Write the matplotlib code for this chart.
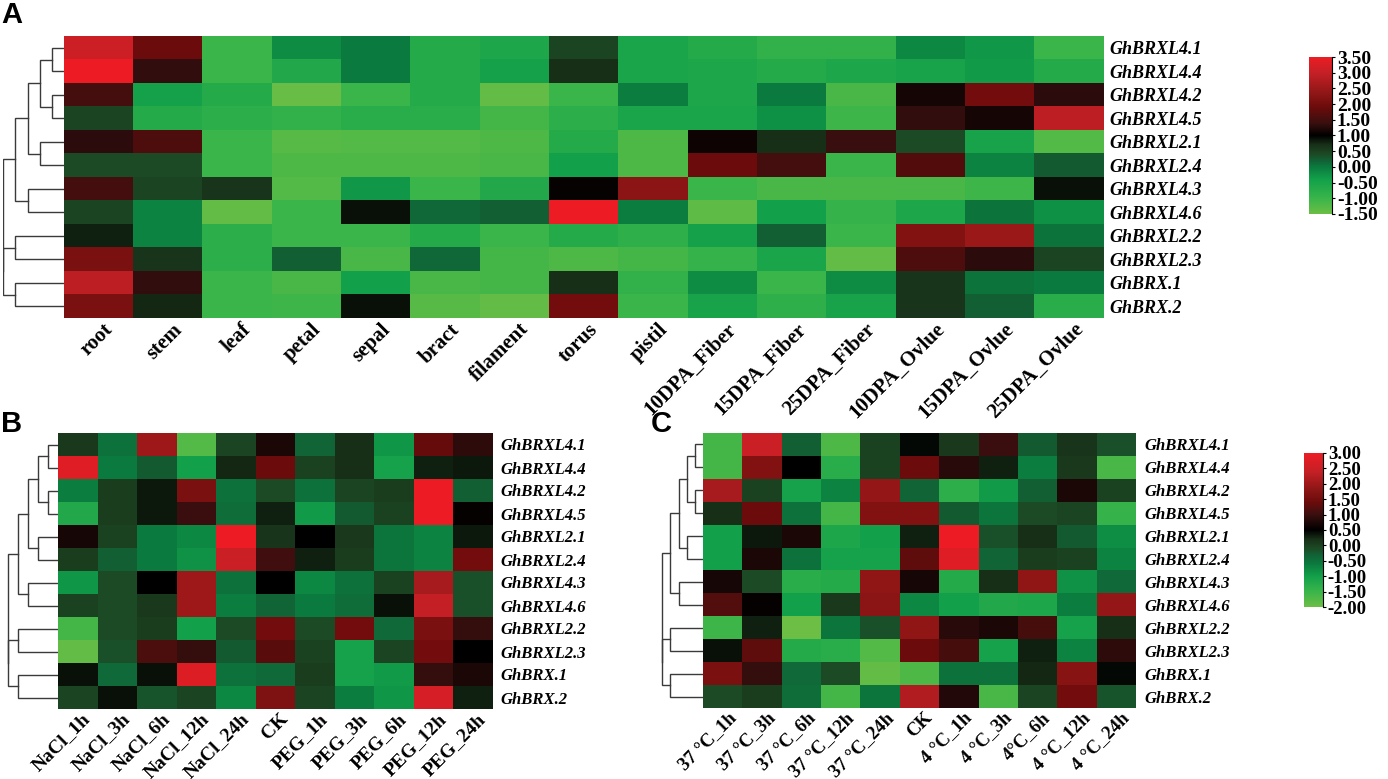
import matplotlib
matplotlib.use("Agg")
import matplotlib.pyplot as plt
import numpy as np
from matplotlib.cm import ScalarMappable
from matplotlib.colors import LinearSegmentedColormap, Normalize
from matplotlib.transforms import ScaledTranslation

W, H = 1388, 779

genes = ["GhBRXL4.1", "GhBRXL4.4", "GhBRXL4.2", "GhBRXL4.5", "GhBRXL2.1", "GhBRXL2.4",
         "GhBRXL4.3", "GhBRXL4.6", "GhBRXL2.2", "GhBRXL2.3", "GhBRX.1", "GhBRX.2"]

tissues = ["root", "stem", "leaf", "petal", "sepal", "bract", "filament", "torus", "pistil",
           "10DPA_Fiber", "15DPA_Fiber", "25DPA_Fiber", "10DPA_Ovlue", "15DPA_Ovlue", "25DPA_Ovlue"]
salt_labels = ["NaCl_1h", "NaCl_3h", "NaCl_6h", "NaCl_12h", "NaCl_24h", "CK",
               "PEG_1h", "PEG_3h", "PEG_6h", "PEG_12h", "PEG_24h"]
temp_labels = ["37 °C_1h", "37 °C_3h", "37 °C_6h", "37 °C_12h", "37 °C_24h", "CK",
               "4 °C_1h", "4 °C_3h", "4°C_6h", "4 °C_12h", "4 °C_24h"]

tissue_values = [
    [3.1, 1.9, -1.0, -0.2, 0.0, -0.7, -0.6, 0.45, -0.55, -0.7, -0.9, -0.9, -0.15, -0.3, -1.0],
    [3.5, 1.35, -1.0, -0.65, 0.0, -0.7, -0.45, 0.7, -0.55, -0.6, -0.7, -0.6, -0.5, -0.35, -0.7],
    [1.5, -0.45, -0.7, -1.45, -1.0, -0.7, -1.4, -1.0, -0.05, -0.6, 0.0, -1.15, 1.15, 2.0, 1.3],
    [0.45, -0.7, -0.8, -0.9, -0.75, -0.75, -1.1, -0.8, -0.55, -0.55, -0.25, -1.05, 1.35, 1.15, 2.9],
    [1.3, 1.6, -1.0, -1.3, -1.25, -1.25, -1.2, -0.7, -1.2, 1.1, 0.7, 1.4, 0.4, -0.5, -1.25],
    [0.4, 0.4, -1.0, -1.2, -1.2, -1.2, -1.15, -0.4, -1.2, 1.9, 1.5, -1.0, 1.65, -0.1, 0.25],
    [1.5, 0.45, 0.65, -1.25, -0.3, -1.0, -0.65, 1.05, 2.3, -1.0, -1.15, -1.15, -1.15, -1.05, 0.9],
    [0.45, -0.1, -1.4, -1.0, 0.9, 0.15, 0.2, 3.5, -0.05, -1.35, -0.4, -0.95, -0.6, 0.05, -0.25],
    [0.8, -0.1, -0.8, -1.0, -1.0, -0.7, -1.0, -0.7, -0.85, -0.45, 0.2, -1.0, 2.2, 2.5, 0.05],
    [2.1, 0.65, -0.8, 0.2, -1.15, 0.15, -1.1, -1.2, -1.1, -0.95, -0.55, -1.4, 1.6, 1.3, 0.45],
    [2.9, 1.35, -1.0, -1.15, -0.4, -1.15, -1.1, 0.7, -0.9, -0.2, -1.0, -0.2, 0.65, 0.05, 0.0],
    [2.1, 0.75, -1.0, -1.05, 0.9, -1.3, -1.4, 2.0, -1.0, -0.5, -0.85, -0.5, 0.65, 0.2, -0.75],
]

salt_values = [
    [0.1, -0.5, 2.0, -1.75, -0.05, 0.75, -0.35, 0.2, -0.9, 1.35, 0.9],
    [2.8, -0.6, -0.25, -1.0, 0.25, 1.4, 0.0, 0.2, -1.05, 0.3, 0.35],
    [-0.65, 0.05, 0.35, 1.6, -0.5, -0.1, -0.5, -0.05, 0.05, 3.0, -0.3],
    [-1.2, 0.05, 0.35, 1.0, -0.45, 0.3, -0.95, -0.25, 0.0, 3.0, 0.55],
    [0.7, 0.0, -0.6, -0.75, 3.0, 0.15, 0.5, 0.1, -0.55, -0.7, 0.35],
    [0.05, -0.3, -0.6, -0.85, 2.5, 1.05, 0.3, 0.05, -0.55, -0.7, 1.5],
    [-0.9, -0.1, 0.5, 2.0, -0.5, 0.5, -0.75, -0.5, 0.0, 2.1, -0.15],
    [0.0, -0.1, 0.1, 2.0, -0.65, -0.35, -0.6, -0.45, 0.4, 2.4, -0.15],
    [-1.6, -0.1, 0.05, -1.0, -0.1, 1.5, -0.1, 1.5, -0.4, 1.6, 0.95],
    [-1.9, -0.15, 1.15, 0.95, -0.25, 1.25, 0.0, -1.05, -0.05, 1.5, 0.5],
    [0.4, -0.4, 0.4, 2.75, -0.5, -0.4, 0.05, -1.05, -0.95, 0.95, 0.75],
    [-0.05, 0.4, -0.2, -0.05, -0.75, 1.65, -0.05, -0.65, -0.9, 2.65, 0.3],
]

temp_values = [
    [-1.6, 2.5, -0.3, -1.7, 0.0, 0.45, 0.1, 1.0, -0.25, 0.15, -0.15],
    [-1.6, 1.7, 0.5, -1.3, 0.0, 1.4, 0.85, 0.3, -0.65, 0.1, -1.65],
    [2.1, 0.0, -1.05, -0.7, 1.9, -0.35, -1.35, -0.95, -0.3, 0.75, 0.0],
    [0.2, 1.4, -0.5, -1.6, 1.7, 1.7, -0.25, -0.55, -0.1, -0.05, -1.45],
    [-1.0, 0.35, 0.75, -1.15, -1.0, 0.3, 3.0, -0.15, 0.2, -0.25, -0.8],
    [-1.0, 0.75, -0.5, -1.05, -1.05, 1.3, 2.8, -0.35, 0.05, 0.0, -0.7],
    [0.7, -0.1, -1.3, -1.25, 1.85, 0.7, -1.25, 0.2, 1.85, -0.85, -0.4],
    [1.2, 0.55, -1.0, 0.1, 1.8, -0.75, -1.0, -1.2, -1.15, -0.65, 1.9],
    [-1.55, 0.3, -2.0, -0.55, -0.15, 1.85, 0.85, 0.75, 1.1, -1.05, 0.2],
    [0.4, 1.3, -1.25, -1.3, -1.75, 1.4, 1.1, -1.05, 0.3, -0.7, 0.9],
    [1.6, 0.95, -0.4, -0.1, -1.9, -1.7, -0.5, -0.5, 0.25, 1.75, 0.45],
    [-0.1, 0.05, -0.45, -1.6, -0.55, 2.2, 0.8, -1.65, -0.05, 1.5, -0.2],
]

# same tree for all panels: (first row, last row of each side, level)
merges = [((0, 0), (1, 1), 1), ((2, 2), (3, 3), 1), ((0, 1), (2, 3), 2), ((4, 4), (5, 5), 2),
          ((6, 6), (7, 7), 3), ((0, 3), (4, 5), 3), ((0, 5), (6, 7), 4), ((8, 8), (9, 9), 4),
          ((10, 10), (11, 11), 4), ((8, 9), (10, 11), 5), ((0, 7), (8, 11), 5)]

green_red = ["#6cbe45", "#39b54a", "#12a04a", "#0b7a3e", "#126035", "#1c4a25", "#183018",
             "#000000", "#3a0f0f", "#6b0b0b", "#8b1515", "#c42026", "#ed1c24"]
stops_a = [-1.5, -1.0, -0.4, 0.0, 0.2, 0.4, 0.7, 1.0, 1.4, 1.9, 2.3, 3.0, 3.5]
stops_bc = [-2.0, -1.5, -1.0, -0.6, -0.3, -0.1, 0.2, 0.5, 1.0, 1.4, 1.8, 2.4, 3.0]


def make_cmap(stops):
    lo, hi = stops[0], stops[-1]
    return LinearSegmentedColormap.from_list(
        "gr", [((s - lo) / (hi - lo), c) for s, c in zip(stops, green_red)], N=512)


def px_axes(fig, x0, y0, x1, y1):
    return fig.add_axes([x0 / W, 1 - y1 / H, (x1 - x0) / W, (y1 - y0) / H])


def draw_tree(fig, box, level_px):
    ax = px_axes(fig, *box)
    ax.set_xlim(box[2] - box[0], 0)
    ax.set_ylim(11.5, -0.5)
    ax.axis("off")
    ys = {}
    xs = {}
    for a, b, level in merges:
        ya = ys.get(a, a[0])
        yb = ys.get(b, b[0])
        x = level_px[level - 1]
        ax.plot([xs.get(a, 0), x, x, xs.get(b, 0)], [ya, ya, yb, yb],
                color="#3a3a3a", lw=1.0, solid_joinstyle="miter")
        new = (a[0], b[1])
        ys[new] = (ya + yb) / 2
        xs[new] = x


def draw_heat(fig, box, values, cols, cmap, norm, gene_size, col_size, gene_pad, shift):
    ax = px_axes(fig, *box)
    ax.imshow(np.array(values), cmap=cmap, norm=norm, aspect="auto", interpolation="nearest")
    for side in ax.spines.values():
        side.set_visible(False)
    ax.yaxis.tick_right()
    ax.set_yticks(range(len(genes)))
    ax.set_yticklabels(genes, family="Liberation Serif", style="italic", weight="bold", size=gene_size)
    ax.set_xticks(range(len(cols)))
    ax.set_xticklabels(cols, rotation=45, ha="right", rotation_mode="anchor",
                       family="Liberation Serif", weight="bold", size=col_size)
    ax.tick_params(axis="y", length=0, pad=gene_pad)
    ax.tick_params(axis="x", length=0, pad=1)
    move = ScaledTranslation(shift / 100, 0, fig.dpi_scale_trans)
    for lab in ax.get_xticklabels():
        lab.set_transform(lab.get_transform() + move)
    return ax


def draw_bar(fig, box, ticks, cmap, norm, size):
    cax = px_axes(fig, *box)
    cb = fig.colorbar(ScalarMappable(norm=norm, cmap=cmap), cax=cax)
    cb.outline.set_visible(False)
    cb.set_ticks(ticks)
    cb.set_ticklabels(["%.2f" % t for t in ticks])
    cax.tick_params(length=2.5, width=0.8, pad=1, labelsize=size)
    for lab in cax.get_yticklabels():
        lab.set_family("Liberation Serif")
        lab.set_weight("bold")
    cax.spines["right"].set_visible(True)
    cax.spines["right"].set_linewidth(0.8)


fig = plt.figure(figsize=(W / 100, H / 100), dpi=100)

norm_a = Normalize(-1.5, 3.5)
norm_bc = Normalize(-2.0, 3.0)
cmap_a = make_cmap(stops_a)
cmap_bc = make_cmap(stops_bc)

draw_heat(fig, (64, 36, 1104, 318), tissue_values, tissues, cmap_a, norm_a, 13, 15, 4, 4)
draw_tree(fig, (3, 36, 64, 318), [12, 24, 36, 49, 61])
draw_bar(fig, (1309, 57, 1332, 214), np.arange(-1.5, 3.51, 0.5), cmap_a, norm_a, 14)

draw_heat(fig, (58, 433, 493, 709), salt_values, salt_labels, cmap_bc, norm_bc, 12, 14, 5, 4)
draw_tree(fig, (6, 433, 58, 709), [10, 20, 30, 40, 50])

draw_heat(fig, (703, 433, 1135, 708), temp_values, temp_labels, cmap_bc, norm_bc, 12, 13.5, 7, 5)
draw_tree(fig, (649, 433, 703, 708), [8, 16, 24, 33, 41])
draw_bar(fig, (1304, 453, 1323, 607), np.arange(-2.0, 3.01, 0.5), cmap_bc, norm_bc, 13.5)

for letter, x, y in [("A", 1, 23), ("B", 1, 432), ("C", 651, 432)]:
    fig.text(x / W, 1 - y / H, letter, family="Liberation Sans", weight="bold", size=21, va="baseline")

fig.savefig("out.png", dpi=100)
